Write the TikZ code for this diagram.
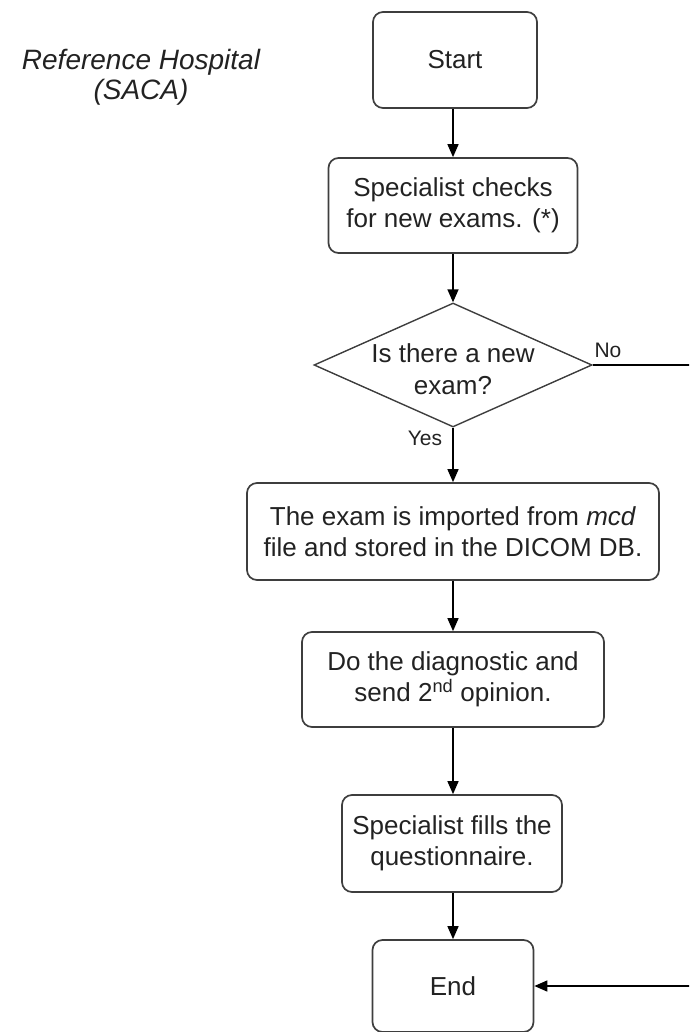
\documentclass[tikz,border=0pt]{standalone}
\usepackage{fontspec}
\setmainfont{Liberation Sans}
\usetikzlibrary{arrows.meta,shapes.geometric}
\definecolor{boxline}{RGB}{62,62,62}
\definecolor{txt}{RGB}{34,34,34}
\begin{document}
\begin{tikzpicture}[x=1pt,y=-1pt,
  box/.style={draw=boxline, line width=1.7pt, rounded corners=10pt, align=center,
    inner sep=0pt, text=txt, font=\fontsize{26}{31}\selectfont},
  decision/.style={diamond, draw=boxline, line width=1.4pt, inner sep=0pt,
    minimum width=278pt, minimum height=124pt},
  flow/.style={draw=black, line width=1.5pt, -{Triangle[length=13pt,width=11pt]}},
  lbl/.style={inner sep=0pt, text=txt, font=\fontsize{21}{24}\selectfont}]
  \useasboundingbox (0,0) rectangle (689,1032);
  \clip (0,0) rectangle (689,1032);

  % heading
  \node[align=center, inner sep=0pt, text=txt, font=\fontsize{28}{30}\selectfont\itshape]
    (title) at (141,77) {Reference Hospital\\(SACA)};

  % process steps
  \node[box, minimum width=164pt, minimum height=96pt] (start) at (455,60) {Start};
  \node[box, minimum width=249pt, minimum height=95pt] (check) at (453,205.5)
    {Specialist checks\\for new exams. (*)};
  \node[decision] (dec) at (453,365) {};
  \node[align=center, inner sep=0pt, text=txt, font=\fontsize{26}{32}\selectfont]
    (dectext) at (453,369) {Is there a new\\exam?};
  \node[box, minimum width=412pt, minimum height=97pt] (import) at (453,531.5)
    {The exam is imported from \textit{mcd}\\file and stored in the DICOM DB.};
  \node[box, minimum width=302pt, minimum height=95pt] (diag) at (453,679.5)
    {Do the diagnostic and\\send 2\textsuperscript{nd} opinion.};
  \node[box, minimum width=220pt, minimum height=97pt] (quest) at (452,843.5)
    {Specialist fills the\\questionnaire.};
  \node[box, minimum width=161pt, minimum height=92pt] (end) at (453,986) {End};

  % connectors
  \draw[flow] (start.south -| check.north) -- (check.north);
  \draw[flow] (check.south) -- (dec.north);
  \draw[flow] (dec.south) -- (import.north);
  \draw[flow] (import.south) -- (diag.north);
  \draw[flow] (diag.south) -- (diag.south |- quest.north);
  \draw[flow] (quest.south -| end.north) -- (end.north);

  % "No" branch runs off to the right and returns into End
  \coordinate (detour) at (720,365);
  \draw[flow] (dec.east) -- (detour) |- (end.east);

  % branch labels
  \node[lbl] (yes) at (425,438) {Yes};
  \node[lbl] (no) at (608,350) {No};
\end{tikzpicture}
\end{document}
